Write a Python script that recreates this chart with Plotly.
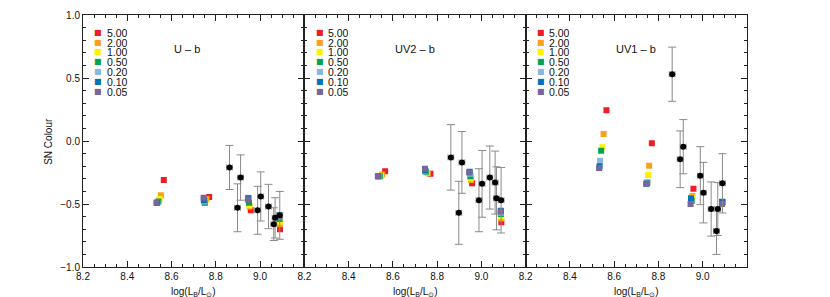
import plotly.graph_objects as go
from plotly.subplots import make_subplots

# ---------------- data ----------------
panel_names = ["U – b", "UV2 – b", "UV1 – b"]
model_labels = ["5.00", "2.00", "1.00", "0.50", "0.20", "0.10", "0.05"]
model_colors = ["#EE1C25", "#F9A11B", "#FFF100", "#00A551", "#88B8E0", "#0072BB", "#77659C"]

# model x positions (log L_B/L_sun), per colour, 4 groups
model_x = [
    [8.565, 8.770, 8.958, 9.090],
    [8.552, 8.758, 8.953, 9.089],
    [8.546, 8.753, 8.951, 9.089],
    [8.541, 8.750, 8.950, 9.088],
    [8.536, 8.747, 8.948, 9.088],
    [8.534, 8.746, 8.947, 9.088],
    [8.532, 8.745, 8.945, 9.087],
]

# model colours per panel, per colour (rows) and group (cols)
model_ub = [
    [-0.31, -0.445, -0.55, -0.70],
    [-0.43, -0.46, -0.52, -0.66],
    [-0.46, -0.49, -0.51, -0.64],
    [-0.48, -0.49, -0.49, -0.62],
    [-0.49, -0.48, -0.45, -0.60],
    [-0.49, -0.47, -0.455, -0.59],
    [-0.49, -0.45, -0.465, -0.60],
]
model_uv2b = [
    [-0.24, -0.26, -0.335, -0.645],
    [-0.265, -0.255, -0.31, -0.615],
    [-0.275, -0.25, -0.295, -0.60],
    [-0.28, -0.245, -0.28, -0.58],
    [-0.28, -0.24, -0.26, -0.57],
    [-0.28, -0.235, -0.245, -0.553],
    [-0.28, -0.22, -0.25, -0.56],
]
model_uv1b = [
    [0.245, -0.018, -0.378, -0.485],
    [0.056, -0.196, -0.436, -0.485],
    [-0.05, -0.27, -0.45, -0.485],
    [-0.077, -0.33, -0.476, -0.49],
    [-0.156, -0.335, -0.47, -0.48],
    [-0.20, -0.34, -0.455, -0.485],
    [-0.214, -0.34, -0.50, -0.50],
]

# supernovae
sn_x = [8.862, 8.898, 8.912, 8.989, 9.003, 9.038, 9.062, 9.068, 9.089]
sn_xerr = [0.013] * 9
sn_ub = [-0.21, -0.53, -0.29, -0.55, -0.44, -0.52, -0.66, -0.61, -0.59]
sn_ub_err = [0.175, 0.19, 0.18, 0.19, 0.195, 0.176, 0.13, 0.16, 0.19]
sn_uv2b = [-0.13, -0.57, -0.17, -0.47, -0.34, -0.29, -0.33, -0.455, -0.47]
sn_uv2b_err = [0.26, 0.25, 0.245, 0.25, 0.265, 0.25, 0.25, 0.25, 0.26]
sn_uv1b = [0.53, -0.145, -0.045, -0.275, -0.41, -0.54, -0.715, -0.54, -0.336]
sn_uv1b_err = [0.215, 0.225, 0.215, 0.23, 0.24, 0.215, 0.185, 0.21, 0.235]

x_ticks = [8.2, 8.4, 8.6, 8.8, 9.0]
y_ticks = [-1.0, -0.5, 0.0, 0.5, 1.0]

model_sets = [model_ub, model_uv2b, model_uv1b]
sn_sets = [(sn_ub, sn_ub_err), (sn_uv2b, sn_uv2b_err), (sn_uv1b, sn_uv1b_err)]

# ---------------- figure ----------------
FONT = "Liberation Sans, Arial, Helvetica, sans-serif"
fig = make_subplots(rows=1, cols=3, horizontal_spacing=0, shared_yaxes=False)

for p in range(3):
    col = p + 1
    for i, lab in enumerate(model_labels):
        fig.add_trace(go.Scatter(
            x=model_x[i], y=model_sets[p][i], mode="markers",
            marker=dict(symbol="square", size=6, color=model_colors[i], line=dict(width=0)),
            showlegend=False, hoverinfo="skip"), row=1, col=col)
    ys, yerr = sn_sets[p]
    fig.add_trace(go.Scatter(
        x=sn_x, y=ys, mode="markers",
        marker=dict(symbol="circle", size=6, color="black"),
        error_y=dict(type="data", array=yerr, color="#8a8a8a", thickness=1, width=4),
        error_x=dict(type="data", array=sn_xerr, color="#8a8a8a", thickness=1, width=3),
        showlegend=False, hoverinfo="skip"), row=1, col=col)

axis_common = dict(showline=True, linecolor="#222", linewidth=1, mirror="ticks",
                   ticks="inside", tickcolor="#222", showgrid=False, zeroline=False,
                   tickfont=dict(family=FONT, size=10, color="#111"))

for p in range(3):
    col = p + 1
    fig.update_xaxes(range=[8.2, 9.2], tickmode="array", tickvals=x_ticks,
                     ticktext=[f"{v:.1f}" for v in x_ticks], ticklen=6,
                     minor=dict(tickmode="linear", tick0=8.2, dtick=0.05, ticklen=3,
                                ticks="inside", tickcolor="#222", showgrid=False),
                     **axis_common, row=1, col=col)
    fig.update_yaxes(range=[-1.0, 1.0], tickmode="array", tickvals=y_ticks,
                     ticktext=[f"{v:.1f}".replace("-", "\u2212") for v in y_ticks],
                     ticklen=6, showticklabels=(p == 0),
                     minor=dict(tickmode="linear", tick0=-1.0, dtick=0.1, ticklen=3,
                                ticks="inside", tickcolor="#222", showgrid=False),
                     **axis_common, row=1, col=col)

annotations = []
xrefs = ["x", "x2", "x3"]
for p in range(3):
    xr = xrefs[p]
    yr = "y" if p == 0 else f"y{p+1}"
    annotations.append(dict(x=8.60, y=0.73, xref=xr, yref=yr, text=panel_names[p],
                            showarrow=False, xanchor="left", yanchor="middle",
                            font=dict(family=FONT, size=11, color="#111")))
    for i, lab in enumerate(model_labels):
        yy = 0.863 - 0.078 * i
        annotations.append(dict(x=8.27, y=yy, xref=xr, yref=yr, text="■",
                                showarrow=False, xanchor="center", yanchor="middle",
                                height=9, font=dict(family="DejaVu Sans", size=8,
                                                    color=model_colors[i])))
        annotations.append(dict(x=8.298, y=yy, xref=xr, yref=yr, text=lab,
                                showarrow=False, xanchor="left", yanchor="middle",
                                height=9, font=dict(family=FONT, size=10.5, color="#111")))
    annotations.append(dict(x=0.5, y=-0.066, xref=f"{xr} domain", yref="paper",
                            text="log(L<sub>B</sub>/L<sub>⊙</sub>)", showarrow=False,
                            xanchor="center", yanchor="top",
                            font=dict(family=FONT, size=10, color="#111")))

annotations.append(dict(x=-0.053, y=0.5, xref="paper", yref="paper", text="SN Colour",
                        textangle=-90, showarrow=False, xanchor="center", yanchor="middle",
                        font=dict(family=FONT, size=10, color="#111")))

fig.update_layout(
    width=830, height=297,
    margin=dict(l=75, r=91, t=7, b=38, autoexpand=False),
    plot_bgcolor="white", paper_bgcolor="white",
    annotations=annotations,
    showlegend=False,
)

fig.write_html("out.html")
